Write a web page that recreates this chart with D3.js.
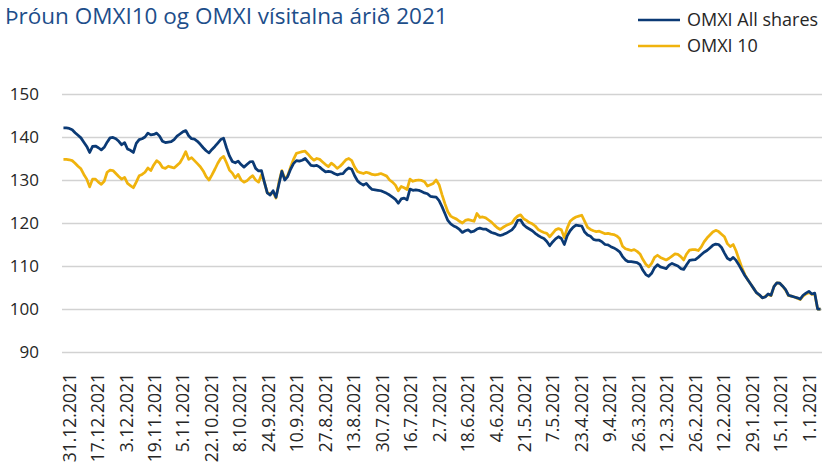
<!DOCTYPE html>
<html>
<head>
<meta charset="utf-8">
<script src="https://cdn.jsdelivr.net/npm/d3@7"></script>
<style>
  body { margin: 0; background: #fff; }
  svg { display: block; font-family: "Open Sans", sans-serif; }
</style>
</head>
<body>
<div id="chart"></div>
<script>
(function(d3) {
    'use strict';

    var width = 829,
        height = 470;

    var title = 'Þróun OMXI10 og OMXI vísitalna árið 2021';
    var seriesNames = ['OMXI All shares', 'OMXI 10'];
    var seriesColors = ['#0b3a75', '#f0b30d'];

    // tick labels, newest first (axis runs backwards in time)
    var tickLabels = ['31.12.2021', '17.12.2021', '3.12.2021', '19.11.2021', '5.11.2021',
        '22.10.2021', '8.10.2021', '24.9.2021', '10.9.2021', '27.8.2021', '13.8.2021',
        '30.7.2021', '16.7.2021', '2.7.2021', '18.6.2021', '4.6.2021', '21.5.2021',
        '7.5.2021', '23.4.2021', '9.4.2021', '26.3.2021', '12.3.2021', '26.2.2021',
        '12.2.2021', '29.1.2021', '15.1.2021', '1.1.2021'];

    var yTicks = [90, 100, 110, 120, 130, 140, 150];

    // trading days, newest first
    var omxiAll = [
        142.1, 142.1, 142.0, 141.7, 141.0, 140.4, 139.8, 138.8, 137.8, 136.4,
        137.8, 137.9, 137.5, 137.0, 137.6, 138.8, 139.8, 139.9, 139.6, 139.0,
        138.2, 138.7, 137.2, 136.9, 136.4, 138.5, 139.4, 139.6, 140.0, 140.9,
        140.5, 140.6, 140.9, 140.2, 139.0, 138.7, 138.8, 138.9, 139.4, 140.2,
        140.7, 141.2, 141.5, 140.3, 139.6, 139.5, 139.0, 138.3, 137.5, 136.8,
        136.3, 137.1, 137.8, 138.6, 139.4, 139.7, 137.5, 135.6, 134.3, 134.0,
        134.4, 133.6, 133.0, 133.6, 134.2, 134.3, 132.7, 132.1, 132.2, 129.5,
        127.0, 126.5, 127.5, 126.0, 129.0, 132.0, 130.0, 130.8, 132.5, 133.8,
        134.5, 134.4, 134.6, 135.0, 134.2, 133.4, 133.3, 133.4, 133.0, 132.4,
        131.9, 132.0, 131.9, 131.5, 131.2, 131.4, 131.5, 132.3, 132.8, 132.5,
        131.0, 129.8, 129.2, 128.8, 129.2, 128.4, 127.8, 127.7, 127.6, 127.5,
        127.2, 126.9, 126.5, 126.0, 125.5, 124.6, 125.6, 125.8, 125.4, 127.9,
        127.6, 127.7, 127.6, 127.3, 127.0, 126.8, 126.2, 126.1, 126.0, 125.2,
        123.8, 122.2, 120.6, 119.8, 119.3, 119.0, 118.5, 117.8, 118.2, 118.4,
        117.9, 118.1, 118.6, 118.8, 118.6, 118.6, 118.2, 117.8, 117.6, 117.3,
        117.1, 117.3, 117.6, 118.0, 118.4, 119.2, 120.6, 120.7, 119.6, 119.0,
        118.6, 118.2, 117.6, 117.1, 116.7, 116.4, 115.7, 114.7, 115.6, 116.3,
        116.8, 116.4, 115.0, 117.0, 118.2, 119.0, 119.5, 119.4, 119.3, 117.9,
        117.2, 116.9, 116.2, 116.0, 116.0, 115.6, 115.0, 114.9, 114.5, 114.2,
        113.8, 113.3, 112.2, 111.4, 111.0, 111.0, 110.9, 110.8, 110.3, 109.0,
        108.0, 107.6, 108.3, 109.6, 110.3, 109.8, 109.6, 109.4, 110.2, 110.6,
        110.3, 110.0, 109.4, 109.2, 110.3, 111.3, 111.4, 111.5, 112.0, 112.6,
        113.2, 113.6, 114.2, 114.8, 115.1, 115.0, 114.3, 113.0, 111.8, 111.4,
        112.0, 111.3, 110.2, 109.0, 107.8, 106.8, 105.8, 104.8, 103.8, 103.3,
        102.6, 102.8, 103.5, 103.2, 105.2, 106.1, 106.0, 105.3, 104.5, 103.2,
        103.0, 102.8, 102.6, 102.3, 103.2, 103.7, 104.1, 103.5, 103.7, 100.0,
        100.0
    ];

    var omxi10 = [
        134.8, 134.8, 134.7, 134.5, 133.9, 133.2, 132.6, 131.3, 130.2, 128.4,
        130.2, 130.2, 129.5, 129.0, 129.7, 131.8, 132.3, 132.2, 131.5, 130.8,
        130.2, 130.6, 129.2, 128.7, 128.2, 129.5, 131.0, 131.3, 131.8, 132.8,
        132.2, 133.5, 134.5, 134.0, 132.9, 132.7, 133.2, 133.0, 132.8, 133.4,
        134.0, 135.2, 136.6, 134.8, 135.2, 134.5, 133.8, 133.1, 132.1, 130.8,
        130.0, 131.2, 132.5, 133.9, 135.0, 135.5, 134.0, 132.3, 131.6, 130.5,
        131.3, 130.0, 129.5, 129.8, 130.5, 131.0, 130.0, 129.5, 131.2, 129.5,
        127.0, 126.8, 127.2, 125.8, 129.5, 132.2, 130.3, 131.0, 133.0, 134.8,
        136.2, 136.4, 136.6, 136.7, 136.0, 135.2, 134.6, 135.0, 134.8, 134.2,
        133.6, 133.1, 133.9, 133.4, 132.7, 133.2, 133.9, 134.7, 135.0, 134.5,
        133.0, 132.0, 131.7, 131.5, 131.8, 131.6, 131.3, 131.2, 131.3, 131.5,
        131.2, 130.9, 130.0, 129.5, 128.8, 127.5, 128.5, 128.2, 127.8, 130.2,
        129.7, 129.9, 130.0, 129.9, 129.6, 128.6, 128.9, 129.2, 130.0, 128.9,
        126.6, 124.5, 122.6, 121.6, 121.2, 120.9, 120.4, 120.0, 120.6, 120.8,
        120.6, 120.4, 122.2, 121.3, 121.4, 121.2, 120.7, 120.2, 119.5, 118.9,
        118.5, 119.0, 119.4, 119.7, 120.0, 121.0, 121.6, 121.9, 121.0, 120.6,
        120.1, 119.8, 119.3, 118.5, 118.1, 117.8, 117.6, 116.8, 117.6, 118.4,
        118.7, 118.4, 116.6, 118.8, 120.4, 121.0, 121.4, 121.6, 121.8, 120.4,
        119.0, 118.5, 118.2, 118.0, 118.1, 117.8, 117.5, 117.6, 117.4, 117.3,
        117.0, 116.4, 114.6, 114.0, 113.8, 113.6, 113.8, 113.4, 112.8, 111.5,
        110.4, 109.8, 110.6, 112.0, 112.5, 112.0, 111.7, 111.4, 111.8, 112.3,
        112.8, 112.7, 112.2, 111.4, 112.8, 113.7, 113.8, 113.8, 113.6, 114.4,
        115.6, 116.5, 117.2, 117.9, 118.3, 118.0, 117.4, 116.8, 115.2, 114.5,
        115.0, 113.5, 111.5, 109.6, 108.0, 106.8, 105.8, 104.8, 103.8, 103.2,
        102.6, 102.9, 103.4, 103.1, 105.2, 106.1, 106.0, 105.3, 104.4, 103.1,
        103.0, 102.8, 102.5, 102.2, 103.0, 103.5, 103.8, 103.4, 103.5, 100.0,
        100.0
    ];

    var parseDate = d3.timeParse('%d.%m.%Y');

    // weekdays of 2021, newest first
    var days = d3.timeDay.range(new Date(2021, 0, 1), new Date(2022, 0, 1))
        .filter(function(d) { return d.getDay() % 6 !== 0; })
        .reverse();
    var dayKeys = days.map(d3.timeFormat('%Y-%m-%d'));

    var plotLeft = 62,
        plotRight = 822;

    var x = d3.scalePoint()
        .domain(dayKeys)
        .range([plotLeft, plotRight])
        .padding(0.5);

    // labels sit on a date scale, 14 days apart
    var xLabel = d3.scaleTime()
        .domain([parseDate(tickLabels[0]), parseDate(tickLabels[tickLabels.length - 1])])
        .range([69, 809]);

    var y = d3.scaleLinear()
        .domain([90, 150])
        .range([352, 94]);

    var svg = d3.select('#chart').append('svg')
        .attr('width', width)
        .attr('height', height);

    svg.append('rect')
        .attr('width', width)
        .attr('height', height)
        .attr('fill', '#fff');

    svg.append('text')
        .attr('x', 5)
        .attr('y', 24)
        .attr('fill', '#1d4e8a')
        .style('font-size', '22.5px')
        .text(title);

    // gridlines + y labels
    var yAxis = svg.append('g')
        .attr('transform', 'translate(' + plotLeft + ',0)')
        .call(d3.axisLeft(y)
            .tickValues(yTicks)
            .tickSize(-(plotRight - plotLeft))
            .tickPadding(23));

    yAxis.select('.domain').remove();
    yAxis.selectAll('line')
        .attr('stroke', '#d2d2d2')
        .attr('stroke-width', 1.5);
    yAxis.selectAll('text')
        .attr('fill', '#262626')
        .style('font-size', '17px')
        .style('font-family', '"Open Sans", sans-serif');

    var xAxis = svg.append('g')
        .attr('transform', 'translate(0,' + y(90) + ')')
        .call(d3.axisBottom(xLabel)
            .tickValues(tickLabels.map(parseDate))
            .tickSize(0)
            .tickFormat(function(d, i) { return tickLabels[i]; }));

    xAxis.select('.domain').remove();
    xAxis.selectAll('text')
        .attr('transform', 'rotate(-90)')
        .attr('x', -21)
        .attr('y', 0)
        .attr('dy', '0.35em')
        .attr('text-anchor', 'end')
        .attr('fill', '#262626')
        .style('font-size', '17.5px')
        .style('font-family', '"Open Sans", sans-serif');

    var line = d3.line()
        .x(function(d, i) { return x(dayKeys[i]); })
        .y(function(d) { return y(d); });

    // yellow under, blue over
    [omxi10, omxiAll].forEach(function(values) {
        var k = values === omxiAll ? 0 : 1;
        svg.append('path')
            .datum(values)
            .attr('fill', 'none')
            .attr('stroke', seriesColors[k])
            .attr('stroke-width', 2.75)
            .attr('stroke-linejoin', 'round')
            .attr('d', line);
    });

    var legend = svg.selectAll('.legend')
        .data(seriesNames)
        .enter()
        .append('g')
        .attr('class', 'legend')
        .attr('transform', function(d, i) {
            return 'translate(638,' + (20 + i * 26) + ')';
        });

    legend.append('line')
        .attr('x1', 0)
        .attr('x2', 42)
        .attr('stroke', function(d, i) { return seriesColors[i]; })
        .attr('stroke-width', 2.5);

    legend.append('text')
        .attr('x', 49)
        .attr('dy', '0.35em')
        .attr('fill', '#262626')
        .style('font-size', '18px')
        .text(function(d) { return d; });

})(window.d3);
</script>
</body>
</html>
